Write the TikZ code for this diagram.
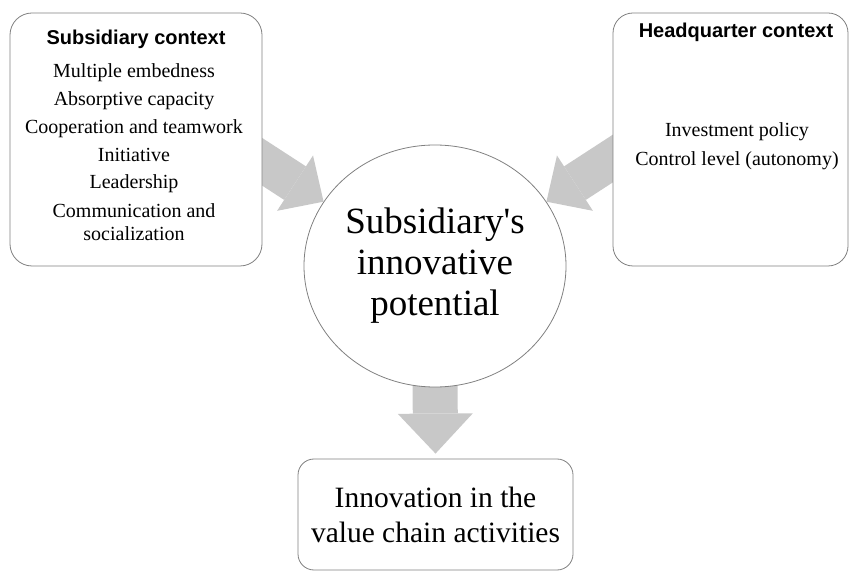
\documentclass[tikz,border=0pt]{standalone}
\usepackage{fontspec}
\setmainfont{Liberation Serif}
\newfontfamily\headfont{Liberation Sans}
\usetikzlibrary{
    arrows.meta,
    shapes.geometric,
    backgrounds,
    calc,
    positioning
}
\definecolor{arrowgray}{RGB}{200,200,200}
\definecolor{boxgray}{RGB}{128,128,128}
\tikzset{ctxbox/.style={draw=boxgray, line width=0.8pt, fill=white, rounded corners=20pt, inner sep=0pt}}
\tikzset{itemtxt/.style={anchor=base, inner sep=0pt, font=\fontsize{20}{23}\selectfont}}
\tikzset{headtxt/.style={anchor=base, inner sep=0pt, font=\headfont\bfseries\fontsize{20}{24}\selectfont}}
\tikzset{sidearrow/.style={draw=arrowgray, line width=40pt, -{Triangle[width=66pt, length=34pt, line width=0pt]}}}
\tikzset{downarrow/.style={draw=arrowgray, line width=45pt, -{Triangle[width=75pt, length=40pt, line width=0pt]}}}

\begin{document}
\begin{tikzpicture}[x=1pt, y=1pt]
    \useasboundingbox (0,0) rectangle (849,576);

    % boxes
    \node[ctxbox, rounded corners=22pt, minimum width=252pt, minimum height=253pt] (sub) at (136,436.5) {};
    \node[ctxbox, minimum width=235pt, minimum height=253pt] (hq) at (730.5,436.5) {};
    \node[draw=boxgray, line width=0.8pt, fill=white, ellipse, inner sep=0pt,
        minimum width=262pt, minimum height=242pt, align=center,
        font=\fontsize{37}{41}\selectfont] (pot) at (435,310)
        {Subsidiary\textquotesingle s\\innovative\\potential};
    \node[ctxbox, rounded corners=16pt, minimum width=275pt, minimum height=111pt,
        align=center, font=\fontsize{29.5}{35}\selectfont] (inn) at (435.5,61.5)
        {Innovation in the\\value chain activities};

    % subsidiary side
    \node[headtxt] (subhead) at (136,531) {Subsidiary context};
    \node[itemtxt] (s1) at (134,498) {Multiple embedness};
    \node[itemtxt] (s2) at (134,470) {Absorptive capacity};
    \node[itemtxt] (s3) at (134,442) {Cooperation and teamwork};
    \node[itemtxt] (s4) at (134,414) {Initiative};
    \node[itemtxt] (s5) at (134,387) {Leadership};
    \node[itemtxt] (s6) at (134,358) {Communication and};
    \node[itemtxt] (s7) at (134,335) {socialization};

    % headquarter side
    \node[headtxt] (hqhead) at (736,538) {Headquarter context};
    \node[itemtxt] (h1) at (737,439) {Investment policy};
    \node[itemtxt] (h2) at (737,410) {Control level (autonomy)};

    \begin{scope}[on background layer]
        \draw[sidearrow] ($(pot.150)+(147:95)$) -- (pot.150);
        \draw[sidearrow] ($(pot.30)+(33:95)$) -- (pot.30);
        \draw[downarrow] ([yshift=20pt]pot.south) -- ([yshift=5pt]inn.north);
    \end{scope}
\end{tikzpicture}
\end{document}
